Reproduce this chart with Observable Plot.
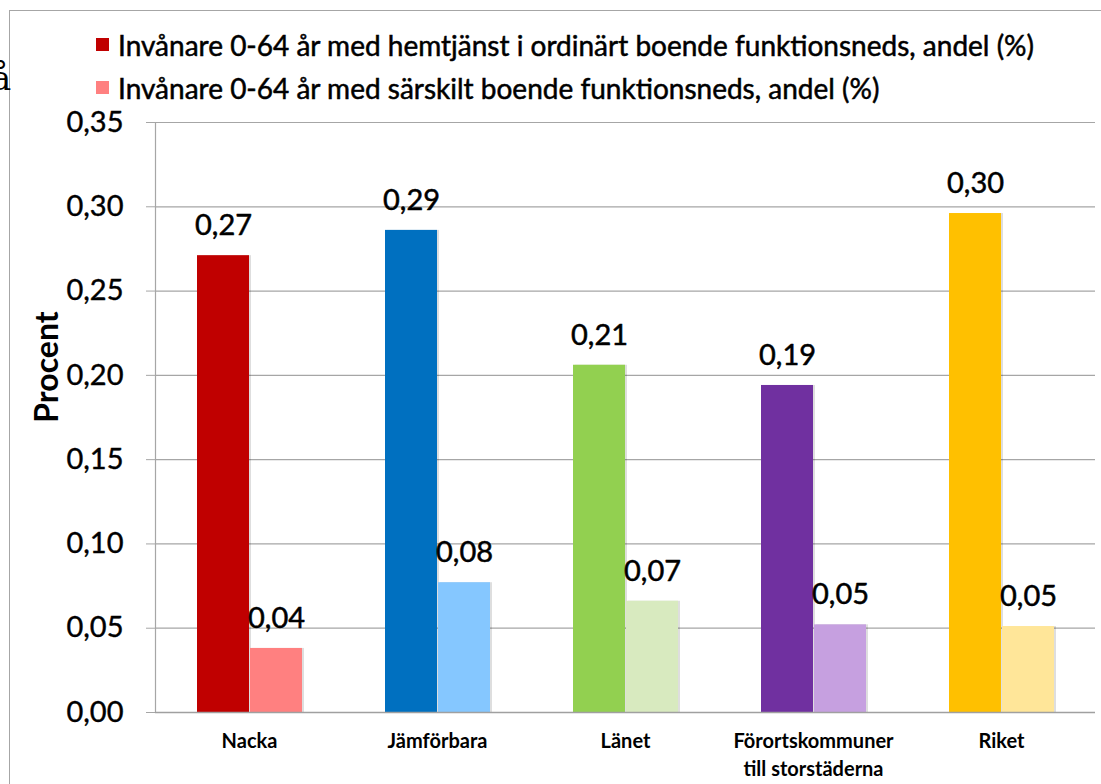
<!DOCTYPE html>
<html>
<head>
<meta charset="utf-8">
<script src="https://cdn.jsdelivr.net/npm/d3@7"></script>
<script src="https://cdn.jsdelivr.net/npm/@observablehq/plot@0.6"></script>
<style>
  html, body { margin: 0; padding: 0; background: #fff; }
  #wrap { position: relative; width: 1101px; height: 784px; overflow: hidden; font-family: Lato, "Open Sans", sans-serif; }
  #frame { position: absolute; left: 9px; top: 10px; width: 1200px; height: 900px; border-top: 1.5px solid #a6a6a6; border-left: 1.5px solid #a6a6a6; }
  #stray { position: absolute; left: -9px; top: 58px; font-family: "DejaVu Serif", "Liberation Serif", serif; font-size: 34px; color: #000; }
  #legend { position: absolute; left: 96px; top: 23px; }
  .item { display: flex; align-items: center; height: 43px; font-weight: 400; font-size: 28px; color: #000; white-space: nowrap; -webkit-text-stroke: 0.5px #000; }
  .sw { width: 13px; height: 13px; margin-right: 9px; }
  #ylabel { position: absolute; left: 45px; top: 367px; transform: translate(-50%, -50%) rotate(-90deg); font-weight: 700; font-size: 32px; color: #000; white-space: nowrap; }
  #chart { position: absolute; left: 0; top: 0; }
  #chart svg g[aria-label="y-axis tick label"] text { stroke: #000; stroke-width: 0.4px; }
</style>
</head>
<body>
<div id="wrap">
  <div id="frame"></div>
  <div id="stray">å</div>
  <div id="legend"></div>
  <div id="ylabel"></div>
  <div id="chart"></div>
</div>
<script>
// ---- data ----
const categories = ["Nacka", "Jämförbara", "Länet", "Förortskommuner\ntill storstäderna", "Riket"];
const seriesKeys = ["hemtjanst", "sarskilt"];
const seriesLabels = [
  "Invånare 0-64 år med hemtjänst i ordinärt boende funktionsneds, andel (%)",
  "Invånare 0-64 år med särskilt boende funktionsneds, andel (%)"
];
const hemtjanst = [0.271, 0.286, 0.206, 0.194, 0.296];
const sarskilt  = [0.038, 0.077, 0.066, 0.052, 0.051];
const darkColors  = ["#C00000", "#0070C0", "#92D050", "#7030A0", "#FFC000"];
const lightColors = ["#FF8080", "#85C7FF", "#D8EABF", "#C6A0E0", "#FFE699"];
const yTicks = [0, 0.05, 0.10, 0.15, 0.20, 0.25, 0.30, 0.35];
const yLabel = "Procent";

const rows = categories.flatMap((c, i) => [
  {cat: c, s: seriesKeys[0], v: hemtjanst[i], color: darkColors[i]},
  {cat: c, s: seriesKeys[1], v: sarskilt[i], color: lightColors[i]}
]);

const fmt = v => d3.format(".2f")(v).replace(".", ",");

// legend
const legend = document.getElementById("legend");
seriesLabels.forEach((lab, i) => {
  const it = document.createElement("div");
  it.className = "item";
  const sw = document.createElement("div");
  sw.className = "sw";
  sw.style.background = [darkColors[0], lightColors[0]][i];
  const tx = document.createElement("span");
  tx.textContent = lab;
  it.appendChild(sw); it.appendChild(tx);
  legend.appendChild(it);
});
document.getElementById("ylabel").textContent = yLabel;

const chart = Plot.plot({
  width: 1101,
  height: 784,
  marginLeft: 153,
  marginRight: 5,
  marginTop: 122,
  marginBottom: 72,
  style: {fontFamily: "Lato, 'Open Sans', sans-serif", background: "transparent", color: "#000"},
  fx: {domain: categories, paddingInner: 0, paddingOuter: 0, label: null, axis: null},
  x: {domain: seriesKeys, paddingInner: 0.02, paddingOuter: 0.78, axis: null},
  y: {domain: [0, 0.35], label: null, axis: null},
  color: {type: "identity"},
  marks: [
    Plot.gridY(yTicks, {stroke: "#a6a6a6", strokeOpacity: 1, strokeWidth: 1.2}),
    Plot.axisY({ticks: yTicks, tickFormat: fmt, tickSize: 9, tickPadding: 23, stroke: "#a6a6a6", fontSize: 29, fontWeight: 400, label: null}),
    Plot.frame({anchor: "left", facetAnchor: "left", stroke: "#a6a6a6", strokeWidth: 1.2}),
    Plot.axisFx({anchor: "bottom", tickSize: 0, tickPadding: 16, fontSize: 20, fontWeight: 700, label: null, lineHeight: 1.4}),
    Plot.barY(rows, {fx: "cat", x: "s", y: "v", fill: "#000", fillOpacity: 0.13, dx: 2, dy: 0}),
    Plot.barY(rows, {fx: "cat", x: "s", y: "v", fill: "color"}),
    Plot.ruleY([0], {stroke: "#a0a0a0", strokeWidth: 1.5}),
    Plot.text(rows, {fx: "cat", x: "s", y: "v", text: d => fmt(d.v), dy: -30, fontSize: 29, fontWeight: 400, fill: "#000", stroke: "#000", strokeWidth: 0.5})
  ]
});
document.getElementById("chart").appendChild(chart);
</script>
</body>
</html>
